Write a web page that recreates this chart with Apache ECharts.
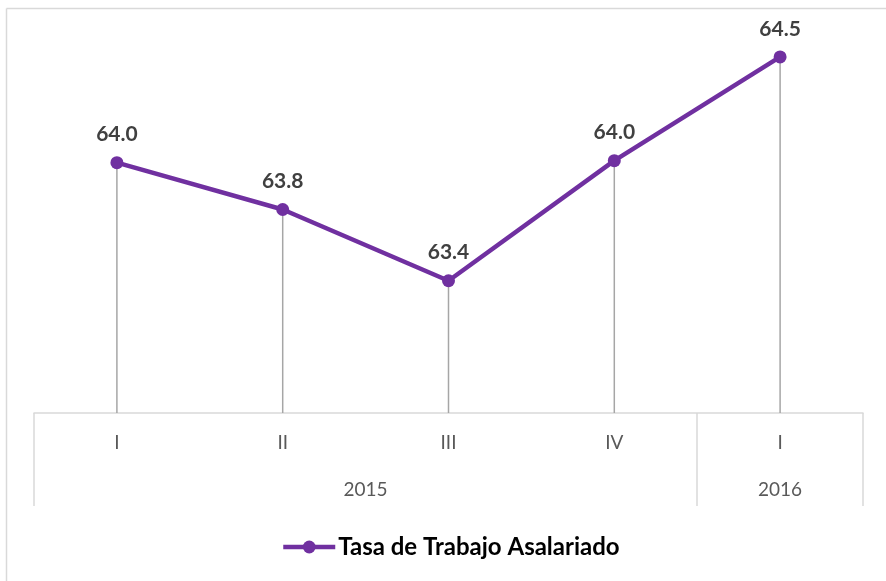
<!DOCTYPE html>
<html>
<head>
<meta charset="utf-8">
<script src="https://cdn.jsdelivr.net/npm/echarts@6/dist/echarts.min.js"></script>
<style>
  html, body { margin: 0; padding: 0; background: #fff; }
  #chart { width: 886px; height: 581px; }
</style>
</head>
<body>
<div id="chart"></div>
<script>
// datos
const quarters = ["I", "II", "III", "IV", "I"];
const years = ["2015", "2016"];
const yearCenters = [2, 4.5];      // centro de cada grupo de trimestres
const yearBounds = [0, 4, 5];      // separadores entre grupos
const tasa = [63.98, 63.75, 63.40, 63.99, 64.50];

const chart = echarts.init(document.getElementById("chart"));

const option = {
  animation: false,
  textStyle: { fontFamily: "Lato" },
  graphic: [
    { type: "line", shape: { x1: 6.5, y1: 8.5, x2: 886, y2: 8.5 }, style: { stroke: "#d9d9d9", lineWidth: 1.5 } },
    { type: "line", shape: { x1: 6.5, y1: 8.5, x2: 6.5, y2: 581 }, style: { stroke: "#d9d9d9", lineWidth: 1.5 } }
  ],
  grid: { left: 34, right: 23, top: 6, bottom: 168 },
  legend: {
    bottom: 22,
    left: 281,
    padding: 0,
    data: ["Tasa de Trabajo Asalariado"],
    itemWidth: 52,
    itemHeight: 16,
    itemGap: 2,
    lineStyle: { width: 4.5 },
    textStyle: { fontSize: 24, fontWeight: "bold", color: "#000", padding: [0, 0, 0, -2] }
  },
  xAxis: [
    {
      type: "category",
      data: quarters,
      boundaryGap: true,
      axisLine: { lineStyle: { color: "#d9d9d9", width: 1.5 } },
      axisTick: { show: false },
      axisLabel: { color: "#595959", fontSize: 19, margin: 20 }
    },
    {
      type: "value",
      min: 0,
      max: 5,
      position: "bottom",
      axisLine: { show: false },
      splitLine: { show: false },
      axisTick: {
        show: true,
        customValues: yearBounds,
        length: 93,
        lineStyle: { color: "#d9d9d9", width: 1.5 }
      },
      axisLabel: {
        customValues: yearCenters,
        color: "#595959",
        fontSize: 19,
        margin: 67,
        formatter: function (v) {
          return years[yearCenters.indexOf(v)];
        }
      }
    }
  ],
  yAxis: {
    type: "value",
    min: 62.75,
    max: 64.75,
    show: false,
    splitLine: { show: false }
  },
  series: [
    {
      name: "drop",
      type: "bar",
      data: tasa,
      barWidth: 1.5,
      silent: true,
      itemStyle: { color: "#a6a6a6" },
      z: 1
    },
    {
      name: "Tasa de Trabajo Asalariado",
      type: "line",
      data: tasa,
      symbol: "circle",
      symbolSize: 13,
      lineStyle: { color: "#7030A0", width: 4.5 },
      itemStyle: { color: "#7030A0" },
      z: 3,
      label: {
        show: true,
        position: "top",
        distance: 11,
        color: "#404040",
        fontSize: 21,
        fontWeight: "bold",
        formatter: function (p) {
          return p.value.toFixed(1);
        }
      }
    }
  ]
};

chart.setOption(option);
</script>
</body>
</html>
